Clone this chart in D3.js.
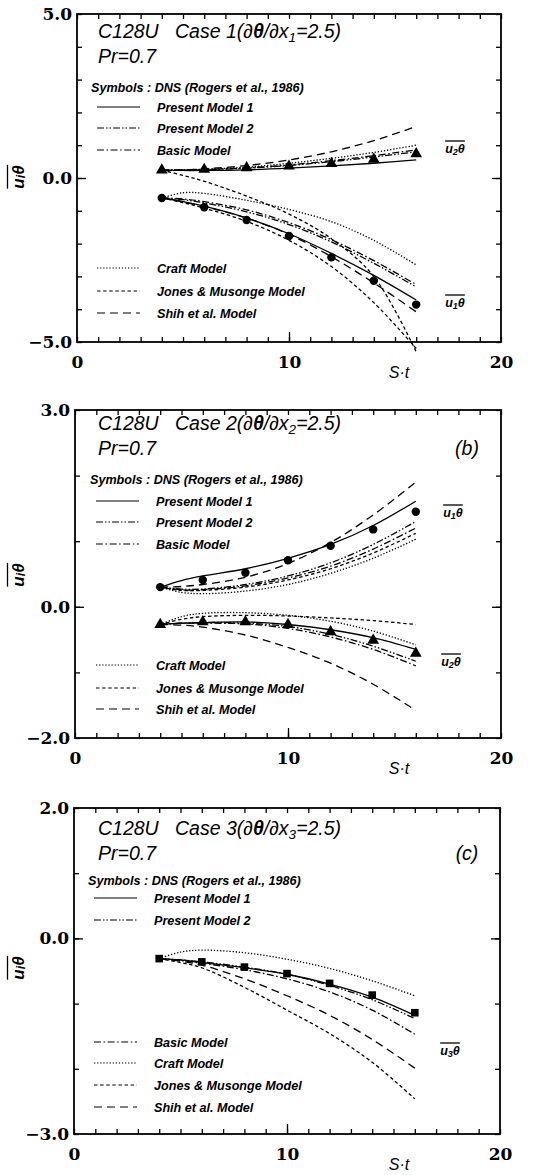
<!DOCTYPE html>
<html><head><meta charset="utf-8">
<script src="https://cdn.jsdelivr.net/npm/d3@7"></script>
<style>body{margin:0;background:#fff}svg{display:block}</style>
</head><body>
<svg id="chart" width="539" height="1175"></svg>
<script>
// ---------- DATA ----------
const stDNS = [4, 6, 8, 10, 12, 14, 16];
const stLine = [4, 5, 6, 8, 10, 12, 14, 16];
const xTickLabels = [0, 10, 20];
const modelNames = ["Present Model 1", "Present Model 2", "Basic Model", "Craft Model", "Jones & Musonge Model", "Shih et al. Model"];

// Case 1 (dθ/dx1 = 2.5)
const c1YTicks = [5, 0, -5];
const c1_u1_dns = [-0.61, -0.89, -1.28, -1.77, -2.42, -3.13, -3.86];
const c1_u2_dns = [0.24, 0.26, 0.31, 0.36, 0.44, 0.57, 0.74];
const c1_u1_pm1 = [-0.61, -0.72, -0.86, -1.22, -1.70, -2.30, -2.97, -3.72];
const c1_u1_pm2 = [-0.61, -0.66, -0.76, -1.03, -1.42, -1.95, -2.60, -3.32];
const c1_u1_basic = [-0.61, -0.64, -0.72, -0.97, -1.36, -1.88, -2.52, -3.25];
const c1_u1_craft = [-0.61, -0.45, -0.47, -0.68, -0.96, -1.33, -1.90, -2.65];
const c1_u1_jm = [-0.61, -0.75, -0.92, -1.32, -1.90, -2.70, -3.80, -5.20];
const c1_u1_shih = [-0.61, -0.73, -0.87, -1.22, -1.72, -2.40, -3.20, -4.08];
const c1_u2_pm1 = [0.24, 0.23, 0.23, 0.25, 0.30, 0.37, 0.45, 0.55];
const c1_u2_pm2 = [0.24, 0.24, 0.25, 0.30, 0.38, 0.50, 0.64, 0.80];
const c1_u2_basic = [0.24, 0.24, 0.26, 0.31, 0.40, 0.53, 0.68, 0.86];
const c1_u2_craft = [0.24, 0.25, 0.27, 0.33, 0.45, 0.60, 0.78, 1.00];
const c1_u2_jm = [0.24, 0.08, -0.10, -0.55, -1.10, -1.85, -3.00, -5.30];
const c1_u2_shih = [0.24, 0.25, 0.28, 0.38, 0.55, 0.80, 1.14, 1.57];

// Case 2 (dθ/dx2 = 2.5)
const c2YTicks = [3, 0, -2];
const c2_u1_dns = [0.30, 0.41, 0.52, 0.71, 0.93, 1.18, 1.45];
const c2_u2_dns = [-0.27, -0.23, -0.23, -0.27, -0.38, -0.51, -0.71];
const c2_u1_pm1 = [0.30, 0.40, 0.47, 0.58, 0.74, 0.95, 1.24, 1.61];
const c2_u1_pm2 = [0.30, 0.27, 0.27, 0.34, 0.47, 0.67, 0.95, 1.30];
const c2_u1_basic = [0.30, 0.26, 0.26, 0.32, 0.44, 0.62, 0.88, 1.20];
const c2_u1_craft = [0.30, 0.22, 0.20, 0.24, 0.34, 0.51, 0.74, 1.03];
const c2_u1_jm = [0.30, 0.25, 0.25, 0.30, 0.41, 0.58, 0.82, 1.12];
const c2_u1_shih = [0.30, 0.31, 0.34, 0.45, 0.66, 0.98, 1.40, 1.90];
const c2_u2_pm1 = [-0.27, -0.25, -0.24, -0.23, -0.27, -0.35, -0.47, -0.65];
const c2_u2_pm2 = [-0.27, -0.25, -0.24, -0.25, -0.30, -0.42, -0.60, -0.83];
const c2_u2_basic = [-0.27, -0.25, -0.25, -0.26, -0.33, -0.46, -0.65, -0.90];
const c2_u2_craft = [-0.27, -0.15, -0.10, -0.09, -0.13, -0.22, -0.37, -0.58];
const c2_u2_jm = [-0.27, -0.19, -0.15, -0.13, -0.14, -0.17, -0.21, -0.27];
const c2_u2_shih = [-0.27, -0.28, -0.31, -0.43, -0.62, -0.86, -1.18, -1.58];

// Case 3 (dθ/dx3 = 2.5)
const c3YTicks = [2, 0, -3];
const c3_u3_dns = [-0.31, -0.36, -0.44, -0.54, -0.69, -0.87, -1.14];
const c3_u3_pm1 = [-0.31, -0.33, -0.37, -0.45, -0.55, -0.70, -0.90, -1.18];
const c3_u3_pm2 = [-0.31, -0.33, -0.36, -0.44, -0.55, -0.72, -0.94, -1.23];
const c3_u3_basic = [-0.31, -0.34, -0.38, -0.48, -0.62, -0.82, -1.10, -1.47];
const c3_u3_craft = [-0.31, -0.21, -0.18, -0.22, -0.32, -0.46, -0.65, -0.88];
const c3_u3_jm = [-0.31, -0.37, -0.45, -0.75, -1.10, -1.46, -1.90, -2.46];
const c3_u3_shih = [-0.31, -0.35, -0.41, -0.62, -0.88, -1.18, -1.55, -1.99];

// ---------- STYLE ----------
const dashes = {
  "Present Model 1": null,
  "Present Model 2": "7,2,1.5,2,1.5,2",
  "Basic Model": "7,2.5,1.6,2.5",
  "Craft Model": "1.3,1.8",
  "Jones & Musonge Model": "3.5,2.6",
  "Shih et al. Model": "8,5"
};
const SANS = "'Liberation Sans', Arial, sans-serif";
const SERIF = "'DejaVu Serif', serif";

const panels = [
  { L: 77, R: 501, T: 14, B: 342, ydom: [-5, 5], yticks: c1YTicks, caseNo: "1", sub: "1", tag: null,
    titleY: 38, symY: 87, legTop: [["Present Model 1", 107], ["Present Model 2", 128], ["Basic Model", 150]],
    legBot: [["Craft Model", 268], ["Jones & Musonge Model", 291], ["Shih et al. Model", 313]], legX: 97,
    ylabY: 177,
    groups: [
      { sym: d3.symbolCircle, dns: c1_u1_dns, lines: [c1_u1_pm1, c1_u1_pm2, c1_u1_basic, c1_u1_craft, c1_u1_jm, c1_u1_shih], lab: "1", lx: 455, ly: 303 },
      { sym: d3.symbolTriangle, dns: c1_u2_dns, lines: [c1_u2_pm1, c1_u2_pm2, c1_u2_basic, c1_u2_craft, c1_u2_jm, c1_u2_shih], lab: "2", lx: 455, ly: 149 }
    ] },
  { L: 75, R: 501, T: 410, B: 738, ydom: [-2, 3], yticks: c2YTicks, caseNo: "2", sub: "2", tag: "(b)",
    titleY: 430, symY: 479, legTop: [["Present Model 1", 501], ["Present Model 2", 522], ["Basic Model", 544]],
    legBot: [["Craft Model", 665], ["Jones & Musonge Model", 688], ["Shih et al. Model", 709]], legX: 96,
    ylabY: 575,
    groups: [
      { sym: d3.symbolCircle, dns: c2_u1_dns, lines: [c2_u1_pm1, c2_u1_pm2, c2_u1_basic, c2_u1_craft, c2_u1_jm, c2_u1_shih], lab: "1", lx: 453, ly: 513 },
      { sym: d3.symbolTriangle, dns: c2_u2_dns, lines: [c2_u2_pm1, c2_u2_pm2, c2_u2_basic, c2_u2_craft, c2_u2_jm, c2_u2_shih], lab: "2", lx: 451, ly: 662 }
    ] },
  { L: 74, R: 500, T: 808, B: 1134, ydom: [-3, 2], yticks: c3YTicks, caseNo: "3", sub: "3", tag: "(c)",
    titleY: 835, symY: 880, legTop: [["Present Model 1", 898], ["Present Model 2", 920]],
    legBot: [["Basic Model", 1042], ["Craft Model", 1063], ["Jones & Musonge Model", 1085], ["Shih et al. Model", 1107]], legX: 94,
    ylabY: 968,
    groups: [
      { sym: d3.symbolSquare, dns: c3_u3_dns, lines: [c3_u3_pm1, c3_u3_pm2, c3_u3_basic, c3_u3_craft, c3_u3_jm, c3_u3_shih], lab: "3", lx: 450, ly: 1051 }
    ] }
];

const svg = d3.select("#chart");

function overLabel(g, x, y, sub, size, rotate) {
  const grp = g.append("g").attr("transform", `translate(${x},${y})` + (rotate ? " rotate(-90)" : ""));
  const t = grp.append("text").attr("text-anchor", "middle").attr("dominant-baseline", "central")
    .attr("font-family", SANS).attr("font-style", "italic").attr("font-weight", "bold").attr("font-size", size);
  t.append("tspan").text("u");
  t.append("tspan").attr("font-size", size * 0.72).attr("dy", size * 0.2).text(sub);
  t.append("tspan").attr("dy", -size * 0.2).text("θ");
  const bb = t.node().getBBox();
  grp.append("line").attr("x1", bb.x).attr("x2", bb.x + bb.width).attr("y1", bb.y - 1).attr("y2", bb.y - 1)
    .attr("stroke", "#000").attr("stroke-width", 1.3);
}

panels.forEach(p => {
  const x = d3.scaleLinear().domain([0, 20]).range([p.L, p.R]);
  const y = d3.scaleLinear().domain(p.ydom).range([p.B, p.T]);
  const g = svg.append("g");
  const intTicks = d3.range(p.ydom[0], p.ydom[1] + 1);

  // ticks (inward)
  const tk = (axis, tr) => {
    const a = g.append("g").attr("transform", tr).call(axis);
    a.select(".domain").remove();
    a.selectAll("line").attr("stroke", "#000").attr("stroke-width", 1.3);
    return a;
  };
  tk(d3.axisBottom(x).tickValues(d3.range(0, 21)).tickSize(-5).tickFormat(""), `translate(0,${p.B})`);
  tk(d3.axisBottom(x).tickValues([10]).tickSize(-10).tickFormat(""), `translate(0,${p.B})`);
  tk(d3.axisTop(x).tickValues(d3.range(0, 21)).tickSize(-5).tickFormat(""), `translate(0,${p.T})`);
  tk(d3.axisLeft(y).tickValues(intTicks).tickSize(-5).tickFormat(""), `translate(${p.L},0)`);
  tk(d3.axisLeft(y).tickValues([0]).tickSize(-9).tickFormat(""), `translate(${p.L},0)`);
  tk(d3.axisRight(y).tickValues(intTicks).tickSize(-5).tickFormat(""), `translate(${p.R},0)`);
  tk(d3.axisRight(y).tickValues([0]).tickSize(-9).tickFormat(""), `translate(${p.R},0)`);

  // frame
  g.append("rect").attr("x", p.L).attr("y", p.T).attr("width", p.R - p.L).attr("height", p.B - p.T)
    .attr("fill", "none").attr("stroke", "#000").attr("stroke-width", 1.8);

  // tick labels
  const xl = g.append("g").attr("transform", `translate(0,${p.B})`)
    .call(d3.axisBottom(x).tickValues(xTickLabels).tickSize(0).tickPadding(14).tickFormat(d3.format("d")));
  xl.select(".domain").remove();
  xl.selectAll("text").attr("font-family", SERIF).attr("font-weight", "bold").attr("font-size", 17).attr("fill", "#000");
  const yl = g.append("g").attr("transform", `translate(${p.L},0)`)
    .call(d3.axisLeft(y).tickValues(p.yticks).tickSize(0).tickPadding(5).tickFormat(d3.format(".1f")));
  yl.select(".domain").remove();
  yl.selectAll("text").attr("font-family", SERIF).attr("font-weight", "bold").attr("font-size", 17).attr("fill", "#000");

  // x axis title
  g.append("text").attr("x", 399).attr("y", p.B + 36).attr("text-anchor", "middle")
    .attr("font-family", SANS).attr("font-style", "italic").attr("font-size", 16).text("S·t");

  // y axis title
  overLabel(g, 18, p.ylabY, "i", 17, true);

  // title
  const tt = g.append("g").attr("font-family", SANS).attr("font-style", "italic").attr("font-size", 19.5);
  tt.append("text").attr("x", 98).attr("y", p.titleY).text("C128U");
  const t2 = tt.append("text").attr("x", 175).attr("y", p.titleY);
  t2.append("tspan").text(`Case ${p.caseNo}(∂`);
  t2.append("tspan").attr("font-weight", "bold").text("θ");
  t2.append("tspan").text("/∂x");
  t2.append("tspan").attr("font-size", 13.5).attr("dy", 4).text(p.sub);
  t2.append("tspan").attr("dy", -4).text("=2.5)");
  tt.append("text").attr("x", 98).attr("y", p.titleY + 25).text("Pr=0.7");
  if (p.tag) tt.append("text").attr("x", 467).attr("y", p.titleY + 25).attr("text-anchor", "middle").text(p.tag);

  // legend
  const lg = g.append("g").attr("font-family", SANS).attr("font-style", "italic").attr("font-weight", "bold").attr("font-size", 12.6);
  lg.append("text").attr("x", p.legX - 6).attr("y", p.symY + 4.5).text("Symbols : DNS (Rogers et al., 1986)");
  [...p.legTop, ...p.legBot].forEach(([name, yy]) => {
    lg.append("line").attr("x1", p.legX).attr("x2", p.legX + 43).attr("y1", yy).attr("y2", yy)
      .attr("stroke", "#000").attr("stroke-width", 1.2).attr("stroke-dasharray", dashes[name]);
    lg.append("text").attr("x", p.legX + 60).attr("y", yy + 4.5).text(name);
  });

  // curves
  const line = d3.line().x(d => x(d[0])).y(d => y(d[1])).curve(d3.curveCatmullRom.alpha(0.5));
  p.groups.forEach(gr => {
    gr.lines.forEach((vals, i) => {
      g.append("path").datum(stLine.map((s, k) => [s, vals[k]]))
        .attr("d", line).attr("fill", "none").attr("stroke", "#000").attr("stroke-width", 1.3)
        .attr("stroke-dasharray", dashes[modelNames[i]]);
    });
    const sz = gr.sym === d3.symbolSquare ? 58 : (gr.sym === d3.symbolTriangle ? 60 : 56);
    g.selectAll(null).data(stDNS.map((s, k) => [s, gr.dns[k]])).join("path")
      .attr("transform", d => `translate(${x(d[0])},${y(d[1])})`)
      .attr("d", d3.symbol(gr.sym, sz)).attr("fill", "#000");
    overLabel(g, gr.lx, gr.ly, gr.lab, 12.5, false);
  });
});
</script>
</body></html>
